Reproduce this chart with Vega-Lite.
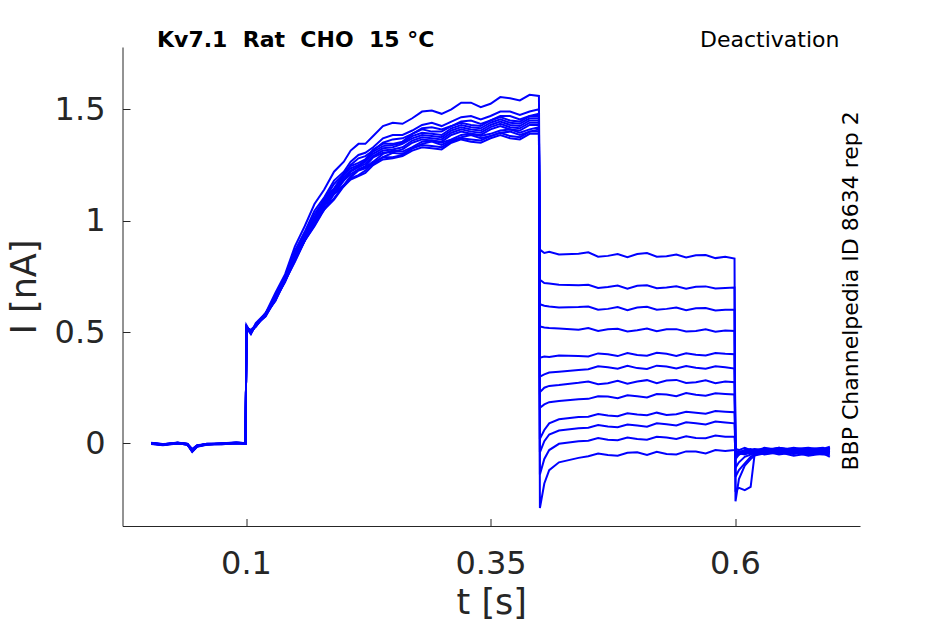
{
  "$schema": "https://vega.github.io/schema/vega-lite/v6.json",
  "autosize": {"type": "none"},
  "padding": {"left": 122.5, "top": 47, "right": 85, "bottom": 98},
  "width": 737.5,
  "height": 479,
  "background": "white",
  "config": {
    "view": {"stroke": null},
    "axis": {
      "grid": false,
      "domainColor": "#262626",
      "tickColor": "#262626",
      "labelColor": "#262626",
      "titleColor": "#262626",
      "labelFont": "DejaVu Sans",
      "titleFont": "DejaVu Sans",
      "labelFontSize": 32,
      "titleFontSize": 35,
      "titleFontWeight": "normal",
      "domainWidth": 1,
      "tickWidth": 1,
      "tickSize": -7.5
    }
  },
  "datasets": {
    "traces": [
      {"k":1,"t":0.003,"i":0.002},{"k":1,"t":0.015,"i":-0.004},{"k":1,"t":0.03,"i":0.003},{"k":1,"t":0.04,"i":-0.002},{"k":1,"t":0.045,"i":-0.03},{"k":1,"t":0.05,"i":-0.01},{"k":1,"t":0.06,"i":-0.003},{"k":1,"t":0.075,"i":0.0},{"k":1,"t":0.09,"i":0.004},{"k":1,"t":0.0995,"i":0.001},
      {"k":1,"t":0.1005,"i":0.53},{"k":1,"t":0.105,"i":0.495},{"k":1,"t":0.11,"i":0.54},{"k":1,"t":0.12,"i":0.585},{"k":1,"t":0.13,"i":0.675},{"k":1,"t":0.14,"i":0.76},{"k":1,"t":0.15,"i":0.885},{"k":1,"t":0.16,"i":0.975},{"k":1,"t":0.17,"i":1.075},{"k":1,"t":0.18,"i":1.14},{"k":1,"t":0.19,"i":1.22},{"k":1,"t":0.2,"i":1.265},{"k":1,"t":0.215,"i":1.345},{"k":1,"t":0.23,"i":1.38},{"k":1,"t":0.25,"i":1.44},{"k":1,"t":0.27,"i":1.46},{"k":1,"t":0.29,"i":1.495},{"k":1,"t":0.31,"i":1.5},{"k":1,"t":0.33,"i":1.53},{"k":1,"t":0.35,"i":1.525},{"k":1,"t":0.37,"i":1.55},{"k":1,"t":0.39,"i":1.565},{"k":1,"t":0.3995,"i":1.56},
      {"k":1,"t":0.4005,"i":0.87},{"k":1,"t":0.405,"i":0.855},{"k":1,"t":0.41,"i":0.86},{"k":1,"t":0.42,"i":0.848},{"k":1,"t":0.44,"i":0.852},{"k":1,"t":0.47,"i":0.842},{"k":1,"t":0.5,"i":0.85},{"k":1,"t":0.53,"i":0.84},{"k":1,"t":0.56,"i":0.845},{"k":1,"t":0.59,"i":0.838},{"k":1,"t":0.5995,"i":0.83},
      {"k":1,"t":0.6005,"i":-0.26},{"k":1,"t":0.604,"i":-0.16},{"k":1,"t":0.61,"i":-0.1},{"k":1,"t":0.616,"i":-0.07},{"k":1,"t":0.62,"i":-0.055},{"k":1,"t":0.63,"i":-0.045},{"k":1,"t":0.645,"i":-0.04},{"k":1,"t":0.66,"i":-0.048},{"k":1,"t":0.675,"i":-0.035},{"k":1,"t":0.69,"i":-0.045},{"k":1,"t":0.697,"i":-0.04},

      {"k":2,"t":0.003,"i":-0.003},{"k":2,"t":0.015,"i":-0.008},{"k":2,"t":0.03,"i":0.0},{"k":2,"t":0.04,"i":-0.006},{"k":2,"t":0.045,"i":-0.038},{"k":2,"t":0.05,"i":-0.015},{"k":2,"t":0.06,"i":-0.006},{"k":2,"t":0.075,"i":-0.004},{"k":2,"t":0.09,"i":0.001},{"k":2,"t":0.0995,"i":-0.002},
      {"k":2,"t":0.1005,"i":0.515},{"k":2,"t":0.105,"i":0.505},{"k":2,"t":0.11,"i":0.525},{"k":2,"t":0.12,"i":0.585},{"k":2,"t":0.13,"i":0.65},{"k":2,"t":0.14,"i":0.75},{"k":2,"t":0.15,"i":0.84},{"k":2,"t":0.16,"i":0.945},{"k":2,"t":0.17,"i":1.015},{"k":2,"t":0.18,"i":1.1},{"k":2,"t":0.19,"i":1.145},{"k":2,"t":0.2,"i":1.21},{"k":2,"t":0.215,"i":1.26},{"k":2,"t":0.23,"i":1.32},{"k":2,"t":0.25,"i":1.345},{"k":2,"t":0.27,"i":1.39},{"k":2,"t":0.29,"i":1.4},{"k":2,"t":0.31,"i":1.425},{"k":2,"t":0.33,"i":1.43},{"k":2,"t":0.35,"i":1.45},{"k":2,"t":0.37,"i":1.45},{"k":2,"t":0.39,"i":1.47},{"k":2,"t":0.3995,"i":1.47},
      {"k":2,"t":0.4005,"i":0.735},{"k":2,"t":0.405,"i":0.72},{"k":2,"t":0.41,"i":0.718},{"k":2,"t":0.42,"i":0.712},{"k":2,"t":0.44,"i":0.71},{"k":2,"t":0.47,"i":0.702},{"k":2,"t":0.5,"i":0.708},{"k":2,"t":0.53,"i":0.7},{"k":2,"t":0.56,"i":0.703},{"k":2,"t":0.59,"i":0.698},{"k":2,"t":0.5995,"i":0.7},
      {"k":2,"t":0.6005,"i":-0.21},{"k":2,"t":0.604,"i":-0.2},{"k":2,"t":0.61,"i":-0.21},{"k":2,"t":0.616,"i":-0.195},{"k":2,"t":0.62,"i":-0.05},{"k":2,"t":0.63,"i":-0.04},{"k":2,"t":0.645,"i":-0.035},{"k":2,"t":0.66,"i":-0.03},{"k":2,"t":0.675,"i":-0.04},{"k":2,"t":0.69,"i":-0.03},{"k":2,"t":0.697,"i":-0.035},

      {"k":3,"t":0.003,"i":0.001},{"k":3,"t":0.015,"i":-0.005},{"k":3,"t":0.03,"i":0.004},{"k":3,"t":0.04,"i":-0.003},{"k":3,"t":0.045,"i":-0.028},{"k":3,"t":0.05,"i":-0.01},{"k":3,"t":0.06,"i":-0.002},{"k":3,"t":0.075,"i":-0.003},{"k":3,"t":0.09,"i":0.002},{"k":3,"t":0.0995,"i":0.0},
      {"k":3,"t":0.1005,"i":0.52},{"k":3,"t":0.105,"i":0.495},{"k":3,"t":0.11,"i":0.535},{"k":3,"t":0.12,"i":0.57},{"k":3,"t":0.13,"i":0.65},{"k":3,"t":0.14,"i":0.73},{"k":3,"t":0.15,"i":0.835},{"k":3,"t":0.16,"i":0.91},{"k":3,"t":0.17,"i":0.995},{"k":3,"t":0.18,"i":1.065},{"k":3,"t":0.19,"i":1.125},{"k":3,"t":0.2,"i":1.16},{"k":3,"t":0.215,"i":1.23},{"k":3,"t":0.23,"i":1.265},{"k":3,"t":0.25,"i":1.315},{"k":3,"t":0.27,"i":1.33},{"k":3,"t":0.29,"i":1.36},{"k":3,"t":0.31,"i":1.365},{"k":3,"t":0.33,"i":1.39},{"k":3,"t":0.35,"i":1.39},{"k":3,"t":0.37,"i":1.41},{"k":3,"t":0.39,"i":1.41},{"k":3,"t":0.3995,"i":1.42},
      {"k":3,"t":0.4005,"i":0.625},{"k":3,"t":0.405,"i":0.618},{"k":3,"t":0.41,"i":0.615},{"k":3,"t":0.42,"i":0.61},{"k":3,"t":0.44,"i":0.612},{"k":3,"t":0.47,"i":0.604},{"k":3,"t":0.5,"i":0.61},{"k":3,"t":0.53,"i":0.604},{"k":3,"t":0.56,"i":0.607},{"k":3,"t":0.59,"i":0.6},{"k":3,"t":0.5995,"i":0.6},
      {"k":3,"t":0.6005,"i":-0.15},{"k":3,"t":0.604,"i":-0.12},{"k":3,"t":0.61,"i":-0.09},{"k":3,"t":0.616,"i":-0.06},{"k":3,"t":0.62,"i":-0.05},{"k":3,"t":0.63,"i":-0.04},{"k":3,"t":0.645,"i":-0.03},{"k":3,"t":0.66,"i":-0.04},{"k":3,"t":0.675,"i":-0.03},{"k":3,"t":0.69,"i":-0.025},{"k":3,"t":0.697,"i":-0.03},

      {"k":4,"t":0.003,"i":-0.002},{"k":4,"t":0.015,"i":-0.007},{"k":4,"t":0.03,"i":0.001},{"k":4,"t":0.04,"i":-0.005},{"k":4,"t":0.045,"i":-0.033},{"k":4,"t":0.05,"i":-0.013},{"k":4,"t":0.06,"i":-0.005},{"k":4,"t":0.075,"i":-0.001},{"k":4,"t":0.09,"i":0.003},{"k":4,"t":0.0995,"i":0.002},
      {"k":4,"t":0.1005,"i":0.525},{"k":4,"t":0.105,"i":0.5},{"k":4,"t":0.11,"i":0.53},{"k":4,"t":0.12,"i":0.585},{"k":4,"t":0.13,"i":0.645},{"k":4,"t":0.14,"i":0.745},{"k":4,"t":0.15,"i":0.835},{"k":4,"t":0.16,"i":0.935},{"k":4,"t":0.17,"i":1.005},{"k":4,"t":0.18,"i":1.085},{"k":4,"t":0.19,"i":1.135},{"k":4,"t":0.2,"i":1.195},{"k":4,"t":0.215,"i":1.245},{"k":4,"t":0.23,"i":1.3},{"k":4,"t":0.25,"i":1.33},{"k":4,"t":0.27,"i":1.37},{"k":4,"t":0.29,"i":1.38},{"k":4,"t":0.31,"i":1.405},{"k":4,"t":0.33,"i":1.41},{"k":4,"t":0.35,"i":1.43},{"k":4,"t":0.37,"i":1.43},{"k":4,"t":0.39,"i":1.45},{"k":4,"t":0.3995,"i":1.45},
      {"k":4,"t":0.4005,"i":0.525},{"k":4,"t":0.405,"i":0.52},{"k":4,"t":0.41,"i":0.518},{"k":4,"t":0.42,"i":0.516},{"k":4,"t":0.44,"i":0.51},{"k":4,"t":0.47,"i":0.512},{"k":4,"t":0.5,"i":0.508},{"k":4,"t":0.53,"i":0.512},{"k":4,"t":0.56,"i":0.505},{"k":4,"t":0.59,"i":0.507},{"k":4,"t":0.5995,"i":0.505},
      {"k":4,"t":0.6005,"i":-0.11},{"k":4,"t":0.604,"i":-0.085},{"k":4,"t":0.61,"i":-0.06},{"k":4,"t":0.616,"i":-0.05},{"k":4,"t":0.62,"i":-0.045},{"k":4,"t":0.63,"i":-0.035},{"k":4,"t":0.645,"i":-0.04},{"k":4,"t":0.66,"i":-0.03},{"k":4,"t":0.675,"i":-0.045},{"k":4,"t":0.69,"i":-0.035},{"k":4,"t":0.697,"i":-0.04},

      {"k":5,"t":0.003,"i":0.003},{"k":5,"t":0.015,"i":-0.004},{"k":5,"t":0.03,"i":0.002},{"k":5,"t":0.04,"i":-0.002},{"k":5,"t":0.045,"i":-0.025},{"k":5,"t":0.05,"i":-0.008},{"k":5,"t":0.06,"i":-0.003},{"k":5,"t":0.075,"i":0.001},{"k":5,"t":0.09,"i":0.004},{"k":5,"t":0.0995,"i":0.001},
      {"k":5,"t":0.1005,"i":0.515},{"k":5,"t":0.105,"i":0.5},{"k":5,"t":0.11,"i":0.53},{"k":5,"t":0.12,"i":0.57},{"k":5,"t":0.13,"i":0.645},{"k":5,"t":0.14,"i":0.73},{"k":5,"t":0.15,"i":0.82},{"k":5,"t":0.16,"i":0.91},{"k":5,"t":0.17,"i":0.98},{"k":5,"t":0.18,"i":1.055},{"k":5,"t":0.19,"i":1.1},{"k":5,"t":0.2,"i":1.16},{"k":5,"t":0.215,"i":1.205},{"k":5,"t":0.23,"i":1.26},{"k":5,"t":0.25,"i":1.285},{"k":5,"t":0.27,"i":1.325},{"k":5,"t":0.29,"i":1.335},{"k":5,"t":0.31,"i":1.355},{"k":5,"t":0.33,"i":1.365},{"k":5,"t":0.35,"i":1.38},{"k":5,"t":0.37,"i":1.38},{"k":5,"t":0.39,"i":1.4},{"k":5,"t":0.3995,"i":1.4},
      {"k":5,"t":0.4005,"i":0.385},{"k":5,"t":0.405,"i":0.39},{"k":5,"t":0.41,"i":0.388},{"k":5,"t":0.42,"i":0.395},{"k":5,"t":0.44,"i":0.392},{"k":5,"t":0.47,"i":0.4},{"k":5,"t":0.5,"i":0.397},{"k":5,"t":0.53,"i":0.402},{"k":5,"t":0.56,"i":0.398},{"k":5,"t":0.59,"i":0.402},{"k":5,"t":0.5995,"i":0.4},
      {"k":5,"t":0.6005,"i":-0.07},{"k":5,"t":0.604,"i":-0.05},{"k":5,"t":0.61,"i":-0.04},{"k":5,"t":0.616,"i":-0.035},{"k":5,"t":0.62,"i":-0.03},{"k":5,"t":0.63,"i":-0.025},{"k":5,"t":0.645,"i":-0.035},{"k":5,"t":0.66,"i":-0.025},{"k":5,"t":0.675,"i":-0.02},{"k":5,"t":0.69,"i":-0.03},{"k":5,"t":0.697,"i":-0.025},

      {"k":6,"t":0.003,"i":-0.001},{"k":6,"t":0.015,"i":-0.006},{"k":6,"t":0.03,"i":0.003},{"k":6,"t":0.04,"i":-0.004},{"k":6,"t":0.045,"i":-0.036},{"k":6,"t":0.05,"i":-0.014},{"k":6,"t":0.06,"i":-0.004},{"k":6,"t":0.075,"i":-0.002},{"k":6,"t":0.09,"i":0.002},{"k":6,"t":0.0995,"i":-0.001},
      {"k":6,"t":0.1005,"i":0.52},{"k":6,"t":0.105,"i":0.51},{"k":6,"t":0.11,"i":0.53},{"k":6,"t":0.12,"i":0.58},{"k":6,"t":0.13,"i":0.66},{"k":6,"t":0.14,"i":0.745},{"k":6,"t":0.15,"i":0.855},{"k":6,"t":0.16,"i":0.94},{"k":6,"t":0.17,"i":1.03},{"k":6,"t":0.18,"i":1.095},{"k":6,"t":0.19,"i":1.165},{"k":6,"t":0.2,"i":1.21},{"k":6,"t":0.215,"i":1.28},{"k":6,"t":0.23,"i":1.315},{"k":6,"t":0.25,"i":1.365},{"k":6,"t":0.27,"i":1.39},{"k":6,"t":0.29,"i":1.42},{"k":6,"t":0.31,"i":1.425},{"k":6,"t":0.33,"i":1.45},{"k":6,"t":0.35,"i":1.45},{"k":6,"t":0.37,"i":1.47},{"k":6,"t":0.39,"i":1.47},{"k":6,"t":0.3995,"i":1.48},
      {"k":6,"t":0.4005,"i":0.3},{"k":6,"t":0.405,"i":0.31},{"k":6,"t":0.41,"i":0.318},{"k":6,"t":0.42,"i":0.322},{"k":6,"t":0.44,"i":0.33},{"k":6,"t":0.47,"i":0.342},{"k":6,"t":0.5,"i":0.338},{"k":6,"t":0.53,"i":0.345},{"k":6,"t":0.56,"i":0.34},{"k":6,"t":0.59,"i":0.342},{"k":6,"t":0.5995,"i":0.336},
      {"k":6,"t":0.6005,"i":-0.06},{"k":6,"t":0.604,"i":-0.045},{"k":6,"t":0.61,"i":-0.035},{"k":6,"t":0.616,"i":-0.03},{"k":6,"t":0.62,"i":-0.028},{"k":6,"t":0.63,"i":-0.03},{"k":6,"t":0.645,"i":-0.02},{"k":6,"t":0.66,"i":-0.03},{"k":6,"t":0.675,"i":-0.025},{"k":6,"t":0.69,"i":-0.035},{"k":6,"t":0.697,"i":-0.02},

      {"k":7,"t":0.003,"i":0.002},{"k":7,"t":0.015,"i":-0.003},{"k":7,"t":0.03,"i":0.0},{"k":7,"t":0.04,"i":-0.006},{"k":7,"t":0.045,"i":-0.03},{"k":7,"t":0.05,"i":-0.011},{"k":7,"t":0.06,"i":-0.002},{"k":7,"t":0.075,"i":-0.004},{"k":7,"t":0.09,"i":0.001},{"k":7,"t":0.0995,"i":0.002},
      {"k":7,"t":0.1005,"i":0.525},{"k":7,"t":0.105,"i":0.495},{"k":7,"t":0.11,"i":0.53},{"k":7,"t":0.12,"i":0.585},{"k":7,"t":0.13,"i":0.645},{"k":7,"t":0.14,"i":0.74},{"k":7,"t":0.15,"i":0.83},{"k":7,"t":0.16,"i":0.93},{"k":7,"t":0.17,"i":0.999},{"k":7,"t":0.18,"i":1.08},{"k":7,"t":0.19,"i":1.13},{"k":7,"t":0.2,"i":1.185},{"k":7,"t":0.215,"i":1.24},{"k":7,"t":0.23,"i":1.29},{"k":7,"t":0.25,"i":1.32},{"k":7,"t":0.27,"i":1.36},{"k":7,"t":0.29,"i":1.37},{"k":7,"t":0.31,"i":1.395},{"k":7,"t":0.33,"i":1.4},{"k":7,"t":0.35,"i":1.42},{"k":7,"t":0.37,"i":1.42},{"k":7,"t":0.39,"i":1.44},{"k":7,"t":0.3995,"i":1.44},
      {"k":7,"t":0.4005,"i":0.23},{"k":7,"t":0.405,"i":0.25},{"k":7,"t":0.41,"i":0.258},{"k":7,"t":0.42,"i":0.262},{"k":7,"t":0.44,"i":0.272},{"k":7,"t":0.47,"i":0.27},{"k":7,"t":0.5,"i":0.278},{"k":7,"t":0.53,"i":0.282},{"k":7,"t":0.56,"i":0.275},{"k":7,"t":0.59,"i":0.278},{"k":7,"t":0.5995,"i":0.275},
      {"k":7,"t":0.6005,"i":-0.05},{"k":7,"t":0.604,"i":-0.04},{"k":7,"t":0.61,"i":-0.045},{"k":7,"t":0.616,"i":-0.035},{"k":7,"t":0.62,"i":-0.04},{"k":7,"t":0.63,"i":-0.03},{"k":7,"t":0.645,"i":-0.045},{"k":7,"t":0.66,"i":-0.035},{"k":7,"t":0.675,"i":-0.05},{"k":7,"t":0.69,"i":-0.04},{"k":7,"t":0.697,"i":-0.045},

      {"k":8,"t":0.003,"i":0.0},{"k":8,"t":0.015,"i":-0.006},{"k":8,"t":0.03,"i":0.002},{"k":8,"t":0.04,"i":-0.003},{"k":8,"t":0.045,"i":-0.027},{"k":8,"t":0.05,"i":-0.009},{"k":8,"t":0.06,"i":-0.005},{"k":8,"t":0.075,"i":0.0},{"k":8,"t":0.09,"i":0.002},{"k":8,"t":0.0995,"i":0.0},
      {"k":8,"t":0.1005,"i":0.515},{"k":8,"t":0.105,"i":0.505},{"k":8,"t":0.11,"i":0.525},{"k":8,"t":0.12,"i":0.58},{"k":8,"t":0.13,"i":0.64},{"k":8,"t":0.14,"i":0.73},{"k":8,"t":0.15,"i":0.815},{"k":8,"t":0.16,"i":0.91},{"k":8,"t":0.17,"i":0.975},{"k":8,"t":0.18,"i":1.05},{"k":8,"t":0.19,"i":1.095},{"k":8,"t":0.2,"i":1.155},{"k":8,"t":0.215,"i":1.2},{"k":8,"t":0.23,"i":1.25},{"k":8,"t":0.25,"i":1.28},{"k":8,"t":0.27,"i":1.315},{"k":8,"t":0.29,"i":1.325},{"k":8,"t":0.31,"i":1.35},{"k":8,"t":0.33,"i":1.355},{"k":8,"t":0.35,"i":1.37},{"k":8,"t":0.37,"i":1.37},{"k":8,"t":0.39,"i":1.39},{"k":8,"t":0.3995,"i":1.39},
      {"k":8,"t":0.4005,"i":0.16},{"k":8,"t":0.405,"i":0.175},{"k":8,"t":0.41,"i":0.185},{"k":8,"t":0.42,"i":0.19},{"k":8,"t":0.44,"i":0.198},{"k":8,"t":0.47,"i":0.21},{"k":8,"t":0.5,"i":0.212},{"k":8,"t":0.53,"i":0.22},{"k":8,"t":0.56,"i":0.218},{"k":8,"t":0.59,"i":0.222},{"k":8,"t":0.5995,"i":0.22},
      {"k":8,"t":0.6005,"i":-0.045},{"k":8,"t":0.604,"i":-0.035},{"k":8,"t":0.61,"i":-0.04},{"k":8,"t":0.616,"i":-0.045},{"k":8,"t":0.62,"i":-0.035},{"k":8,"t":0.63,"i":-0.05},{"k":8,"t":0.645,"i":-0.04},{"k":8,"t":0.66,"i":-0.055},{"k":8,"t":0.675,"i":-0.045},{"k":8,"t":0.69,"i":-0.05},{"k":8,"t":0.697,"i":-0.05},

      {"k":9,"t":0.003,"i":0.001},{"k":9,"t":0.015,"i":-0.005},{"k":9,"t":0.03,"i":0.001},{"k":9,"t":0.04,"i":-0.004},{"k":9,"t":0.045,"i":-0.032},{"k":9,"t":0.05,"i":-0.012},{"k":9,"t":0.06,"i":-0.003},{"k":9,"t":0.075,"i":-0.002},{"k":9,"t":0.09,"i":0.003},{"k":9,"t":0.0995,"i":0.001},
      {"k":9,"t":0.1005,"i":0.52},{"k":9,"t":0.105,"i":0.49},{"k":9,"t":0.11,"i":0.535},{"k":9,"t":0.12,"i":0.575},{"k":9,"t":0.13,"i":0.655},{"k":9,"t":0.14,"i":0.75},{"k":9,"t":0.15,"i":0.84},{"k":9,"t":0.16,"i":0.94},{"k":9,"t":0.17,"i":1.01},{"k":9,"t":0.18,"i":1.09},{"k":9,"t":0.19,"i":1.14},{"k":9,"t":0.2,"i":1.205},{"k":9,"t":0.215,"i":1.25},{"k":9,"t":0.23,"i":1.31},{"k":9,"t":0.25,"i":1.34},{"k":9,"t":0.27,"i":1.38},{"k":9,"t":0.29,"i":1.39},{"k":9,"t":0.31,"i":1.415},{"k":9,"t":0.33,"i":1.42},{"k":9,"t":0.35,"i":1.44},{"k":9,"t":0.37,"i":1.44},{"k":9,"t":0.39,"i":1.46},{"k":9,"t":0.3995,"i":1.46},
      {"k":9,"t":0.4005,"i":0.02},{"k":9,"t":0.405,"i":0.06},{"k":9,"t":0.41,"i":0.09},{"k":9,"t":0.42,"i":0.108},{"k":9,"t":0.44,"i":0.118},{"k":9,"t":0.47,"i":0.125},{"k":9,"t":0.5,"i":0.13},{"k":9,"t":0.53,"i":0.128},{"k":9,"t":0.56,"i":0.138},{"k":9,"t":0.59,"i":0.142},{"k":9,"t":0.5995,"i":0.14},
      {"k":9,"t":0.6005,"i":-0.04},{"k":9,"t":0.604,"i":-0.05},{"k":9,"t":0.61,"i":-0.035},{"k":9,"t":0.616,"i":-0.045},{"k":9,"t":0.62,"i":-0.03},{"k":9,"t":0.63,"i":-0.04},{"k":9,"t":0.645,"i":-0.03},{"k":9,"t":0.66,"i":-0.045},{"k":9,"t":0.675,"i":-0.035},{"k":9,"t":0.69,"i":-0.03},{"k":9,"t":0.697,"i":-0.04},

      {"k":10,"t":0.003,"i":-0.002},{"k":10,"t":0.015,"i":-0.004},{"k":10,"t":0.03,"i":0.002},{"k":10,"t":0.04,"i":-0.005},{"k":10,"t":0.045,"i":-0.034},{"k":10,"t":0.05,"i":-0.01},{"k":10,"t":0.06,"i":-0.004},{"k":10,"t":0.075,"i":-0.003},{"k":10,"t":0.09,"i":0.001},{"k":10,"t":0.0995,"i":0.0},
      {"k":10,"t":0.1005,"i":0.515},{"k":10,"t":0.105,"i":0.505},{"k":10,"t":0.11,"i":0.525},{"k":10,"t":0.12,"i":0.58},{"k":10,"t":0.13,"i":0.64},{"k":10,"t":0.14,"i":0.74},{"k":10,"t":0.15,"i":0.83},{"k":10,"t":0.16,"i":0.925},{"k":10,"t":0.17,"i":0.995},{"k":10,"t":0.18,"i":1.075},{"k":10,"t":0.19,"i":1.12},{"k":10,"t":0.2,"i":1.18},{"k":10,"t":0.215,"i":1.23},{"k":10,"t":0.23,"i":1.285},{"k":10,"t":0.25,"i":1.31},{"k":10,"t":0.27,"i":1.35},{"k":10,"t":0.29,"i":1.36},{"k":10,"t":0.31,"i":1.385},{"k":10,"t":0.33,"i":1.39},{"k":10,"t":0.35,"i":1.41},{"k":10,"t":0.37,"i":1.41},{"k":10,"t":0.39,"i":1.43},{"k":10,"t":0.3995,"i":1.43},
      {"k":10,"t":0.4005,"i":-0.04},{"k":10,"t":0.405,"i":0.01},{"k":10,"t":0.41,"i":0.04},{"k":10,"t":0.42,"i":0.058},{"k":10,"t":0.44,"i":0.068},{"k":10,"t":0.47,"i":0.076},{"k":10,"t":0.5,"i":0.08},{"k":10,"t":0.53,"i":0.086},{"k":10,"t":0.56,"i":0.09},{"k":10,"t":0.59,"i":0.094},{"k":10,"t":0.5995,"i":0.09},
      {"k":10,"t":0.6005,"i":-0.03},{"k":10,"t":0.604,"i":-0.04},{"k":10,"t":0.61,"i":-0.03},{"k":10,"t":0.616,"i":-0.025},{"k":10,"t":0.62,"i":-0.035},{"k":10,"t":0.63,"i":-0.02},{"k":10,"t":0.645,"i":-0.03},{"k":10,"t":0.66,"i":-0.02},{"k":10,"t":0.675,"i":-0.03},{"k":10,"t":0.69,"i":-0.025},{"k":10,"t":0.697,"i":-0.015},

      {"k":11,"t":0.003,"i":0.002},{"k":11,"t":0.015,"i":-0.005},{"k":11,"t":0.03,"i":0.001},{"k":11,"t":0.04,"i":-0.003},{"k":11,"t":0.045,"i":-0.029},{"k":11,"t":0.05,"i":-0.012},{"k":11,"t":0.06,"i":-0.004},{"k":11,"t":0.075,"i":-0.001},{"k":11,"t":0.09,"i":0.003},{"k":11,"t":0.0995,"i":0.001},
      {"k":11,"t":0.1005,"i":0.525},{"k":11,"t":0.105,"i":0.5},{"k":11,"t":0.11,"i":0.535},{"k":11,"t":0.12,"i":0.58},{"k":11,"t":0.13,"i":0.665},{"k":11,"t":0.14,"i":0.75},{"k":11,"t":0.15,"i":0.865},{"k":11,"t":0.16,"i":0.95},{"k":11,"t":0.17,"i":1.045},{"k":11,"t":0.18,"i":1.105},{"k":11,"t":0.19,"i":1.18},{"k":11,"t":0.2,"i":1.22},{"k":11,"t":0.215,"i":1.295},{"k":11,"t":0.23,"i":1.33},{"k":11,"t":0.25,"i":1.385},{"k":11,"t":0.27,"i":1.405},{"k":11,"t":0.29,"i":1.44},{"k":11,"t":0.31,"i":1.445},{"k":11,"t":0.33,"i":1.47},{"k":11,"t":0.35,"i":1.47},{"k":11,"t":0.37,"i":1.49},{"k":11,"t":0.39,"i":1.49},{"k":11,"t":0.3995,"i":1.5},
      {"k":11,"t":0.4005,"i":-0.14},{"k":11,"t":0.405,"i":-0.07},{"k":11,"t":0.41,"i":-0.03},{"k":11,"t":0.42,"i":-0.002},{"k":11,"t":0.44,"i":0.01},{"k":11,"t":0.47,"i":0.016},{"k":11,"t":0.5,"i":0.02},{"k":11,"t":0.53,"i":0.026},{"k":11,"t":0.56,"i":0.024},{"k":11,"t":0.59,"i":0.03},{"k":11,"t":0.5995,"i":0.03},
      {"k":11,"t":0.6005,"i":-0.035},{"k":11,"t":0.604,"i":-0.045},{"k":11,"t":0.61,"i":-0.05},{"k":11,"t":0.616,"i":-0.04},{"k":11,"t":0.62,"i":-0.045},{"k":11,"t":0.63,"i":-0.035},{"k":11,"t":0.645,"i":-0.05},{"k":11,"t":0.66,"i":-0.04},{"k":11,"t":0.675,"i":-0.055},{"k":11,"t":0.69,"i":-0.045},{"k":11,"t":0.697,"i":-0.06},

      {"k":12,"t":0.003,"i":0.0},{"k":12,"t":0.015,"i":-0.007},{"k":12,"t":0.03,"i":0.003},{"k":12,"t":0.04,"i":-0.004},{"k":12,"t":0.045,"i":-0.037},{"k":12,"t":0.05,"i":-0.013},{"k":12,"t":0.06,"i":-0.003},{"k":12,"t":0.075,"i":-0.002},{"k":12,"t":0.09,"i":0.002},{"k":12,"t":0.0995,"i":-0.001},
      {"k":12,"t":0.1005,"i":0.52},{"k":12,"t":0.105,"i":0.495},{"k":12,"t":0.11,"i":0.53},{"k":12,"t":0.12,"i":0.575},{"k":12,"t":0.13,"i":0.65},{"k":12,"t":0.14,"i":0.725},{"k":12,"t":0.15,"i":0.83},{"k":12,"t":0.16,"i":0.91},{"k":12,"t":0.17,"i":0.995},{"k":12,"t":0.18,"i":1.05},{"k":12,"t":0.19,"i":1.12},{"k":12,"t":0.2,"i":1.155},{"k":12,"t":0.215,"i":1.225},{"k":12,"t":0.23,"i":1.255},{"k":12,"t":0.25,"i":1.305},{"k":12,"t":0.27,"i":1.325},{"k":12,"t":0.29,"i":1.355},{"k":12,"t":0.31,"i":1.36},{"k":12,"t":0.33,"i":1.385},{"k":12,"t":0.35,"i":1.38},{"k":12,"t":0.37,"i":1.4},{"k":12,"t":0.39,"i":1.4},{"k":12,"t":0.3995,"i":1.41},
      {"k":12,"t":0.4005,"i":-0.29},{"k":12,"t":0.405,"i":-0.18},{"k":12,"t":0.41,"i":-0.12},{"k":12,"t":0.42,"i":-0.085},{"k":12,"t":0.44,"i":-0.065},{"k":12,"t":0.47,"i":-0.052},{"k":12,"t":0.5,"i":-0.04},{"k":12,"t":0.53,"i":-0.048},{"k":12,"t":0.56,"i":-0.036},{"k":12,"t":0.59,"i":-0.034},{"k":12,"t":0.5995,"i":-0.03},
      {"k":12,"t":0.6005,"i":-0.025},{"k":12,"t":0.604,"i":-0.03},{"k":12,"t":0.61,"i":-0.02},{"k":12,"t":0.616,"i":-0.03},{"k":12,"t":0.62,"i":-0.025},{"k":12,"t":0.63,"i":-0.035},{"k":12,"t":0.645,"i":-0.02},{"k":12,"t":0.66,"i":-0.03},{"k":12,"t":0.675,"i":-0.025},{"k":12,"t":0.69,"i":-0.02},{"k":12,"t":0.697,"i":-0.03},

      {"k":1,"t":0.207,"i":1.315},{"k":1,"t":0.222,"i":1.345},{"k":1,"t":0.24,"i":1.425},{"k":1,"t":0.26,"i":1.435},{"k":1,"t":0.28,"i":1.49},{"k":1,"t":0.3,"i":1.48},{"k":1,"t":0.32,"i":1.53},{"k":1,"t":0.34,"i":1.51},{"k":1,"t":0.36,"i":1.555},{"k":1,"t":0.38,"i":1.54},
      {"k":2,"t":0.207,"i":1.245},{"k":2,"t":0.222,"i":1.275},{"k":2,"t":0.24,"i":1.345},{"k":2,"t":0.26,"i":1.355},{"k":2,"t":0.28,"i":1.41},{"k":2,"t":0.3,"i":1.4},{"k":2,"t":0.32,"i":1.44},{"k":2,"t":0.34,"i":1.425},{"k":2,"t":0.36,"i":1.465},{"k":2,"t":0.38,"i":1.445},
      {"k":3,"t":0.207,"i":1.2},{"k":3,"t":0.222,"i":1.24},{"k":3,"t":0.24,"i":1.3},{"k":3,"t":0.26,"i":1.31},{"k":3,"t":0.28,"i":1.355},{"k":3,"t":0.3,"i":1.35},{"k":3,"t":0.32,"i":1.385},{"k":3,"t":0.34,"i":1.38},{"k":3,"t":0.36,"i":1.405},{"k":3,"t":0.38,"i":1.395},
      {"k":4,"t":0.207,"i":1.225},{"k":4,"t":0.222,"i":1.265},{"k":4,"t":0.24,"i":1.325},{"k":4,"t":0.26,"i":1.345},{"k":4,"t":0.28,"i":1.385},{"k":4,"t":0.3,"i":1.375},{"k":4,"t":0.32,"i":1.42},{"k":4,"t":0.34,"i":1.405},{"k":4,"t":0.36,"i":1.445},{"k":4,"t":0.38,"i":1.425},
      {"k":5,"t":0.207,"i":1.19},{"k":5,"t":0.222,"i":1.225},{"k":5,"t":0.24,"i":1.285},{"k":5,"t":0.26,"i":1.295},{"k":5,"t":0.28,"i":1.34},{"k":5,"t":0.3,"i":1.33},{"k":5,"t":0.32,"i":1.37},{"k":5,"t":0.34,"i":1.36},{"k":5,"t":0.36,"i":1.395},{"k":5,"t":0.38,"i":1.375},
      {"k":6,"t":0.207,"i":1.25},{"k":6,"t":0.222,"i":1.29},{"k":6,"t":0.24,"i":1.35},{"k":6,"t":0.26,"i":1.37},{"k":6,"t":0.28,"i":1.415},{"k":6,"t":0.3,"i":1.41},{"k":6,"t":0.32,"i":1.445},{"k":6,"t":0.34,"i":1.435},{"k":6,"t":0.36,"i":1.47},{"k":6,"t":0.38,"i":1.455},
      {"k":7,"t":0.207,"i":1.22},{"k":7,"t":0.222,"i":1.255},{"k":7,"t":0.24,"i":1.315},{"k":7,"t":0.26,"i":1.33},{"k":7,"t":0.28,"i":1.375},{"k":7,"t":0.3,"i":1.365},{"k":7,"t":0.32,"i":1.41},{"k":7,"t":0.34,"i":1.395},{"k":7,"t":0.36,"i":1.435},{"k":7,"t":0.38,"i":1.415},
      {"k":8,"t":0.207,"i":1.185},{"k":8,"t":0.222,"i":1.215},{"k":8,"t":0.24,"i":1.275},{"k":8,"t":0.26,"i":1.29},{"k":8,"t":0.28,"i":1.33},{"k":8,"t":0.3,"i":1.32},{"k":8,"t":0.32,"i":1.365},{"k":8,"t":0.34,"i":1.35},{"k":8,"t":0.36,"i":1.385},{"k":8,"t":0.38,"i":1.365},
      {"k":9,"t":0.207,"i":1.235},{"k":9,"t":0.222,"i":1.27},{"k":9,"t":0.24,"i":1.335},{"k":9,"t":0.26,"i":1.35},{"k":9,"t":0.28,"i":1.395},{"k":9,"t":0.3,"i":1.385},{"k":9,"t":0.32,"i":1.43},{"k":9,"t":0.34,"i":1.415},{"k":9,"t":0.36,"i":1.455},{"k":9,"t":0.38,"i":1.435},
      {"k":10,"t":0.207,"i":1.21},{"k":10,"t":0.222,"i":1.245},{"k":10,"t":0.24,"i":1.305},{"k":10,"t":0.26,"i":1.32},{"k":10,"t":0.28,"i":1.365},{"k":10,"t":0.3,"i":1.355},{"k":10,"t":0.32,"i":1.4},{"k":10,"t":0.34,"i":1.385},{"k":10,"t":0.36,"i":1.425},{"k":10,"t":0.38,"i":1.405},
      {"k":11,"t":0.207,"i":1.265},{"k":11,"t":0.222,"i":1.305},{"k":11,"t":0.24,"i":1.37},{"k":11,"t":0.26,"i":1.385},{"k":11,"t":0.28,"i":1.43},{"k":11,"t":0.3,"i":1.425},{"k":11,"t":0.32,"i":1.465},{"k":11,"t":0.34,"i":1.455},{"k":11,"t":0.36,"i":1.49},{"k":11,"t":0.38,"i":1.475},
      {"k":12,"t":0.207,"i":1.195},{"k":12,"t":0.222,"i":1.235},{"k":12,"t":0.24,"i":1.285},{"k":12,"t":0.26,"i":1.3},{"k":12,"t":0.28,"i":1.345},{"k":12,"t":0.3,"i":1.34},{"k":12,"t":0.32,"i":1.375},{"k":12,"t":0.34,"i":1.37},{"k":12,"t":0.36,"i":1.395},{"k":12,"t":0.38,"i":1.385},

      {"k":1,"t":0.45,"i":0.858},{"k":1,"t":0.46,"i":0.838},{"k":1,"t":0.48,"i":0.85},{"k":1,"t":0.49,"i":0.836},{"k":1,"t":0.51,"i":0.855},{"k":1,"t":0.52,"i":0.838},{"k":1,"t":0.54,"i":0.848},{"k":1,"t":0.55,"i":0.835},{"k":1,"t":0.57,"i":0.846},{"k":1,"t":0.58,"i":0.832},
      {"k":2,"t":0.45,"i":0.712},{"k":2,"t":0.46,"i":0.698},{"k":2,"t":0.48,"i":0.709},{"k":2,"t":0.49,"i":0.695},{"k":2,"t":0.51,"i":0.71},{"k":2,"t":0.52,"i":0.697},{"k":2,"t":0.54,"i":0.706},{"k":2,"t":0.55,"i":0.694},{"k":2,"t":0.57,"i":0.705},{"k":2,"t":0.58,"i":0.696},
      {"k":3,"t":0.45,"i":0.615},{"k":3,"t":0.46,"i":0.6},{"k":3,"t":0.48,"i":0.612},{"k":3,"t":0.49,"i":0.598},{"k":3,"t":0.51,"i":0.613},{"k":3,"t":0.52,"i":0.6},{"k":3,"t":0.54,"i":0.61},{"k":3,"t":0.55,"i":0.598},{"k":3,"t":0.57,"i":0.608},{"k":3,"t":0.58,"i":0.597},
      {"k":4,"t":0.45,"i":0.518},{"k":4,"t":0.46,"i":0.505},{"k":4,"t":0.48,"i":0.515},{"k":4,"t":0.49,"i":0.503},{"k":4,"t":0.51,"i":0.516},{"k":4,"t":0.52,"i":0.504},{"k":4,"t":0.54,"i":0.513},{"k":4,"t":0.55,"i":0.502},{"k":4,"t":0.57,"i":0.512},{"k":4,"t":0.58,"i":0.501},
      {"k":5,"t":0.45,"i":0.39},{"k":5,"t":0.46,"i":0.404},{"k":5,"t":0.48,"i":0.392},{"k":5,"t":0.49,"i":0.406},{"k":5,"t":0.51,"i":0.394},{"k":5,"t":0.52,"i":0.407},{"k":5,"t":0.54,"i":0.393},{"k":5,"t":0.55,"i":0.405},{"k":5,"t":0.57,"i":0.395},{"k":5,"t":0.58,"i":0.406},
      {"k":6,"t":0.45,"i":0.333},{"k":6,"t":0.46,"i":0.346},{"k":6,"t":0.48,"i":0.335},{"k":6,"t":0.49,"i":0.348},{"k":6,"t":0.51,"i":0.334},{"k":6,"t":0.52,"i":0.349},{"k":6,"t":0.54,"i":0.336},{"k":6,"t":0.55,"i":0.347},{"k":6,"t":0.57,"i":0.335},{"k":6,"t":0.58,"i":0.346},
      {"k":7,"t":0.45,"i":0.278},{"k":7,"t":0.46,"i":0.266},{"k":7,"t":0.48,"i":0.281},{"k":7,"t":0.49,"i":0.268},{"k":7,"t":0.51,"i":0.284},{"k":7,"t":0.52,"i":0.27},{"k":7,"t":0.54,"i":0.285},{"k":7,"t":0.55,"i":0.271},{"k":7,"t":0.57,"i":0.283},{"k":7,"t":0.58,"i":0.27},
      {"k":8,"t":0.45,"i":0.2},{"k":8,"t":0.46,"i":0.212},{"k":8,"t":0.48,"i":0.203},{"k":8,"t":0.49,"i":0.216},{"k":8,"t":0.51,"i":0.206},{"k":8,"t":0.52,"i":0.222},{"k":8,"t":0.54,"i":0.212},{"k":8,"t":0.55,"i":0.226},{"k":8,"t":0.57,"i":0.214},{"k":8,"t":0.58,"i":0.225},
      {"k":9,"t":0.45,"i":0.12},{"k":9,"t":0.46,"i":0.132},{"k":9,"t":0.48,"i":0.122},{"k":9,"t":0.49,"i":0.135},{"k":9,"t":0.51,"i":0.126},{"k":9,"t":0.52,"i":0.138},{"k":9,"t":0.54,"i":0.131},{"k":9,"t":0.55,"i":0.142},{"k":9,"t":0.57,"i":0.133},{"k":9,"t":0.58,"i":0.145},
      {"k":10,"t":0.45,"i":0.07},{"k":10,"t":0.46,"i":0.082},{"k":10,"t":0.48,"i":0.073},{"k":10,"t":0.49,"i":0.085},{"k":10,"t":0.51,"i":0.075},{"k":10,"t":0.52,"i":0.09},{"k":10,"t":0.54,"i":0.08},{"k":10,"t":0.55,"i":0.095},{"k":10,"t":0.57,"i":0.085},{"k":10,"t":0.58,"i":0.098},
      {"k":11,"t":0.45,"i":0.012},{"k":11,"t":0.46,"i":0.024},{"k":11,"t":0.48,"i":0.014},{"k":11,"t":0.49,"i":0.026},{"k":11,"t":0.51,"i":0.016},{"k":11,"t":0.52,"i":0.03},{"k":11,"t":0.54,"i":0.02},{"k":11,"t":0.55,"i":0.032},{"k":11,"t":0.57,"i":0.023},{"k":11,"t":0.58,"i":0.035},
      {"k":12,"t":0.45,"i":-0.058},{"k":12,"t":0.46,"i":-0.046},{"k":12,"t":0.48,"i":-0.055},{"k":12,"t":0.49,"i":-0.042},{"k":12,"t":0.51,"i":-0.052},{"k":12,"t":0.52,"i":-0.038},{"k":12,"t":0.54,"i":-0.05},{"k":12,"t":0.55,"i":-0.036},{"k":12,"t":0.57,"i":-0.045},{"k":12,"t":0.58,"i":-0.03}
    ],
    "notes": [
      {"label": "Kv7.1\u00a0 Rat\u00a0 CHO\u00a0 15 °C", "t": 0.009, "i": 1.781},
      {"label": "Deactivation", "t": 0.7068, "i": 1.781},
      {"label": "BBP Channelpedia ID 8634 rep 2", "t": 0.7261, "i": 0.685}
    ]
  },
  "layer": [
    {
      "data": {"name": "traces"},
      "mark": {"type": "line", "color": "#0000ff", "strokeWidth": 2, "clip": true},
      "encoding": {
        "x": {
          "field": "t", "type": "quantitative",
          "scale": {"domain": [-0.0263, 0.7278], "nice": false, "zero": false},
          "axis": {"values": [0.1, 0.35, 0.6], "format": "~g", "title": "t [s]", "labelPadding": 29.5, "titlePadding": 6}
        },
        "y": {
          "field": "i", "type": "quantitative",
          "scale": {"domain": [-0.371, 1.78], "nice": false, "zero": false},
          "axis": {"values": [0, 0.5, 1, 1.5], "format": "~g", "title": "I [nA]", "labelPadding": 25, "titlePadding": 12}
        },
        "detail": {"field": "k", "type": "nominal"},
        "order": {"field": "t", "type": "quantitative"}
      }
    },
    {
      "data": {"name": "notes"},
      "transform": [{"filter": "datum.label === 'Kv7.1\u00a0 Rat\u00a0 CHO\u00a0 15 °C'"}],
      "mark": {"type": "text", "font": "DejaVu Sans", "fontWeight": "bold", "fontSize": 22, "align": "left", "baseline": "alphabetic", "color": "#000000"},
      "encoding": {"x": {"field": "t", "type": "quantitative"}, "y": {"field": "i", "type": "quantitative"}, "text": {"field": "label"}}
    },
    {
      "data": {"name": "notes"},
      "transform": [{"filter": "datum.label === 'Deactivation'"}],
      "mark": {"type": "text", "font": "DejaVu Sans", "fontSize": 22, "align": "right", "baseline": "alphabetic", "color": "#000000"},
      "encoding": {"x": {"field": "t", "type": "quantitative"}, "y": {"field": "i", "type": "quantitative"}, "text": {"field": "label"}}
    },
    {
      "data": {"name": "notes"},
      "transform": [{"filter": "datum.label === 'BBP Channelpedia ID 8634 rep 2'"}],
      "mark": {"type": "text", "font": "DejaVu Sans", "fontSize": 22, "angle": 270, "align": "center", "baseline": "alphabetic", "color": "#000000"},
      "encoding": {"x": {"field": "t", "type": "quantitative"}, "y": {"field": "i", "type": "quantitative"}, "text": {"field": "label"}}
    }
  ]
}
